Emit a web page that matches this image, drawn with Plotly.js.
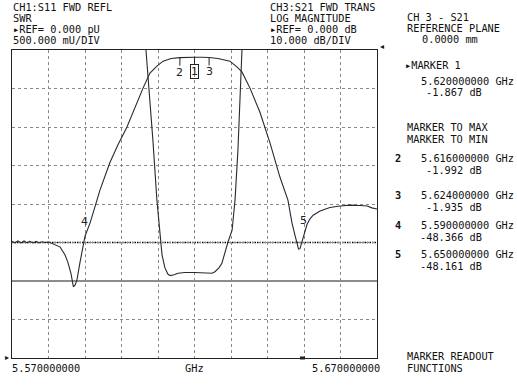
<!DOCTYPE html>
<html>
<head>
<meta charset="utf-8">
<script src="https://cdn.plot.ly/plotly-3.0.1.min.js"></script>
<style>
html,body{margin:0;padding:0;background:#fff;}
#chart{width:517px;height:388px;}
</style>
</head>
<body>
<div id="chart"></div>
<script>
// ---- Data ----
// CH3: S21 FWD TRANS, log magnitude (dB)
const freqS21 = [5.5700,5.5708,5.5716,5.5725,5.5733,5.5741,5.5749,5.5758,5.5766,5.5774,5.5782,5.5790,5.5801,
  5.5818,5.5832,5.5845,5.5853,5.5862,5.5868,5.5873,5.5878,5.5886,5.5895,5.5900,5.5914,5.5930,5.5941,
  5.5968,5.5990,5.6015,5.6037,5.6059,5.6078,5.6097,5.6114,5.6136,5.6160,5.6179,5.6200,5.6221,5.6240,
  5.6264,5.6297,5.6316,5.6330,5.6352,5.6379,5.6407,5.6434,5.6456,5.6467,5.6475,5.6481,5.6485,5.6489,
  5.6495,5.6500,5.6508,5.6516,5.6525,5.6544,5.6571,5.6599,5.6626,5.6653,5.6673,5.6686,5.6700];
const valS21 = [-49.7,-50.1,-49.6,-50.1,-49.6,-50.1,-49.7,-50.1,-49.7,-50.1,-49.8,-50.0,-49.9,
  -50.6,-51.2,-53.2,-55.1,-58.2,-61.5,-61.0,-59.7,-55.3,-51.2,-48.37,-44.9,-39.7,-36.4,
  -29.3,-24.7,-20.0,-14.8,-9.9,-6.0,-4.2,-2.9,-2.2,-1.99,-1.9,-1.87,-1.9,-1.94,
  -2.2,-2.9,-4.4,-5.7,-9.9,-16.1,-24.2,-33.0,-39.0,-44.9,-48.0,-50.1,-51.7,-51.6,
  -49.8,-48.16,-45.4,-43.9,-42.9,-41.8,-40.9,-40.5,-40.3,-40.4,-40.5,-41.0,-41.3];

// CH1: S11 FWD REFL, SWR (off scale outside the passband)
const freqSWR = [5.5700,5.6051,5.6067,5.6078,5.6086,5.6097,5.6105,5.6111,5.6119,5.6127,5.6133,5.6144,5.6155,
  5.6174,5.6201,5.6229,5.6248,5.6256,5.6267,5.6275,5.6284,5.6292,5.6303,5.6311,5.6319,5.6325,5.6330,
  5.6333,5.6347,5.6700];
const valSWR = [10.0,6.0,4.00,3.35,2.83,2.05,1.60,1.34,1.17,1.09,1.07,1.08,1.10,
  1.11,1.11,1.10,1.10,1.12,1.17,1.23,1.38,1.51,1.66,2.05,2.70,3.22,3.68,
  4.00,6.0,10.0];

// Markers
const markerIds = ['1','2','3','4','5'];
const markerFreq = [5.620, 5.616, 5.624, 5.590, 5.650];
const markerVal = [-1.867, -1.992, -1.935, -48.366, -48.161];

// Header texts
const ch1Lines = ['CH1:S11 FWD REFL', 'SWR', '\u25B8REF= 0.000 pU', '500.000 mU/DIV'];
const ch3Lines = ['CH3:S21 FWD TRANS', 'LOG MAGNITUDE', '\u25B8REF= 0.000 dB', '10.000 dB/DIV'];
const planeLines = ['CH 3 - S21', 'REFERENCE PLANE', '0.0000 mm'];
const xStartLabel = '5.570000000';
const xEndLabel = '5.670000000';
const xUnit = 'GHz';

// ---- Layout helpers ----
const L = 12, T = 50, W = 365, H = 308;
const PX = x => (x - L) / W;
const PY = y => (T + H - y) / H;
const nb = s => s.replace(/ /g, '\u00A0');
const MONO = 'DejaVu Sans Mono, monospace';
const FS = 10.3;
const INK = '#111';

function txt(s, x, y, anchor, extra) {
  return Object.assign({
    text: nb(s), xref: 'paper', yref: 'paper', x: PX(x), y: PY(y),
    xanchor: anchor || 'left', yanchor: 'middle', showarrow: false,
    font: {family: MONO, size: FS, color: INK}, borderpad: 0
  }, extra || {});
}

const ann = [];
const rowY = [6.6, 17.6, 28.8, 40.4];
ch1Lines.forEach((s, i) => ann.push(txt(s, 12, rowY[i])));
ch3Lines.forEach((s, i) => ann.push(txt(s, 269, rowY[i])));
ann.push(txt(planeLines[0], 406, 16.6));
ann.push(txt(planeLines[1], 406, 27.6));
ann.push(txt(planeLines[2], 421, 38.8));

// marker readout panel
ann.push(txt('\u25B8MARKER ' + markerIds[0], 404, 65));
ann.push(txt(markerFreq[0].toFixed(9) + ' GHz', 420, 80.5));
ann.push(txt(markerVal[0].toFixed(3) + ' dB', 483, 92, 'right'));
ann.push(txt('MARKER TO MAX', 406, 127));
ann.push(txt('MARKER TO MIN', 406, 138.5));
const panelY = [null, 158, 195, 225, 254];
for (let i = 1; i < markerIds.length; i++) {
  ann.push(txt(markerIds[i], 394, panelY[i], 'left', {font: {family: MONO, size: FS, color: INK, weight: 'bold'}}));
  ann.push(txt(markerFreq[i].toFixed(9) + ' GHz', 420, panelY[i]));
  ann.push(txt(markerVal[i].toFixed(3) + ' dB', 483, panelY[i] + 12, 'right'));
}
ann.push(txt('MARKER READOUT', 406, 356));
ann.push(txt('FUNCTIONS', 406, 368));

// x labels
ann.push(txt(xStartLabel, 11, 368));
ann.push(txt(xUnit, 194, 368, 'center'));
ann.push(txt(xEndLabel, 381, 368, 'right'));

// reference arrows
ann.push(txt('\u25B8', 7, 357, 'center', {font: {family: 'DejaVu Sans', size: 8, color: INK}}));
ann.push(txt('\u25C2', 382, 47, 'center', {font: {family: 'DejaVu Sans', size: 8, color: INK}}));

// marker labels on the trace
const MK = {family: 'DejaVu Sans, sans-serif', size: 11, color: '#222'};
for (let i = 0; i < 3; i++) {
  ann.push({
    x: markerFreq[i], y: markerVal[i], xref: 'x', yref: 'y',
    text: markerIds[i], showarrow: true, arrowhead: 0, arrowwidth: 1, arrowcolor: '#222',
    ax: 0, ay: 14.5, font: MK, borderpad: 0,
    bordercolor: i === 0 ? '#222' : 'rgba(0,0,0,0)', borderwidth: i === 0 ? 1 : 0
  });
}
for (let i = 3; i < 5; i++) {
  ann.push({
    x: markerFreq[i], y: markerVal[i], xref: 'x', yref: 'y',
    text: markerIds[i], showarrow: false, yshift: 14.5, xshift: -1, font: MK
  });
}

const shapes = [
  // limit / reference lines
  {type: 'line', xref: 'paper', x0: 0, x1: 1, yref: 'y', y0: -50, y1: -50,
   line: {color: '#000', width: 1.6, dash: '1.5px,1px'}, layer: 'below'},
  {type: 'line', xref: 'paper', x0: 0, x1: 1, yref: 'y', y0: -60, y1: -60,
   line: {color: '#8c8c8c', width: 2}, layer: 'below'},
  // small marker tab under the axis
  {type: 'rect', xref: 'paper', yref: 'paper', x0: PX(300), x1: PX(305), y0: PY(359.5), y1: PY(356.5),
   fillcolor: '#222', line: {width: 0}}
];

const traces = [
  {x: freqS21, y: valS21, type: 'scatter', mode: 'lines', xaxis: 'x', yaxis: 'y',
   line: {color: '#2a2a2a', width: 1.1}, hoverinfo: 'skip'},
  {x: freqSWR, y: valSWR, type: 'scatter', mode: 'lines', xaxis: 'x', yaxis: 'y2',
   line: {color: '#2a2a2a', width: 1.1}, hoverinfo: 'skip'}
];

const layout = {
  width: 517, height: 388,
  margin: {l: L, r: 517 - L - W, t: T, b: 388 - T - H, pad: 0},
  paper_bgcolor: '#fff', plot_bgcolor: '#fff',
  showlegend: false,
  xaxis: {range: [5.57, 5.67], dtick: 0.01, tick0: 5.57, showgrid: true, gridcolor: '#8a8a8a',
          griddash: 'dot', gridwidth: 1, showticklabels: false, ticks: '', zeroline: false,
          showline: true, mirror: true, linecolor: '#222', linewidth: 1.2, fixedrange: true},
  yaxis: {range: [-80, 0], dtick: 10, tick0: 0, showgrid: true, gridcolor: '#8a8a8a',
          griddash: 'dot', gridwidth: 1, showticklabels: false, ticks: '', zeroline: false,
          showline: true, mirror: true, linecolor: '#222', linewidth: 1.2, fixedrange: true},
  yaxis2: {range: [0, 4], overlaying: 'y', side: 'right', showgrid: false, showticklabels: false,
           ticks: '', zeroline: false, showline: false, fixedrange: true},
  annotations: ann,
  shapes: shapes
};

Plotly.newPlot('chart', traces, layout, {displayModeBar: false, staticPlot: true});
</script>
</body>
</html>
